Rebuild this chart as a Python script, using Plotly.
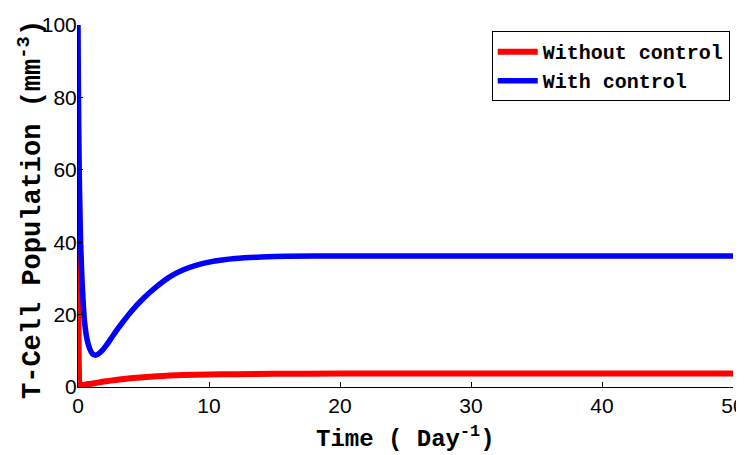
import plotly.graph_objects as go

t_blue = [0, 0.02, 0.05, 0.1, 0.15, 0.2, 0.3, 0.4, 0.5, 0.7, 0.9, 1.1, 1.3, 1.5, 1.8, 2.2, 2.6, 3, 3.5, 4, 5, 6, 7, 8, 9, 10, 11, 12, 14, 16, 20, 30, 40, 50]
blue = [100, 88, 74, 58, 48, 40, 30, 23, 18, 13, 10.5, 9.2, 8.8, 9.0, 9.9, 11.7, 13.8, 15.9, 18.3, 20.6, 24.5, 27.7, 30.4, 32.3, 33.6, 34.5, 35.1, 35.5, 35.9, 36.1, 36.2, 36.2, 36.2, 36.2]

t_red = [0, 0.02, 0.05, 0.08, 0.12, 0.3, 0.6, 1, 1.5, 2, 3, 4, 5, 6, 7, 8, 10, 12, 15, 20, 30, 40, 50]
red = [60, 30, 10, 3, 0.6, 0.5, 0.7, 0.9, 1.2, 1.5, 2.0, 2.4, 2.7, 2.95, 3.15, 3.3, 3.45, 3.55, 3.65, 3.7, 3.7, 3.7, 3.7]

x_ticks = [0, 10, 20, 30, 40, 50]
y_ticks = [0, 20, 40, 60, 80, 100]

x_title = "Time ( Day<sup>-1</sup>)"
y_title = "T-Cell Population (mm<sup>-3</sup>)"

fig = go.Figure()
fig.add_trace(go.Scatter(x=t_red, y=red, mode="lines", name="Without control",
                         line=dict(color="#ff0000", width=6, shape="spline", smoothing=0.6)))
fig.add_trace(go.Scatter(x=t_blue, y=blue, mode="lines", name="With control",
                         line=dict(color="#0000ff", width=5.5, shape="spline", smoothing=0.6)))

tick_font = dict(family="Liberation Sans", size=21, color="black")

fig.update_layout(
    width=744, height=447,
    margin=dict(l=70, r=19, t=17, b=68, autoexpand=False),
    plot_bgcolor="white", paper_bgcolor="white",
    showlegend=True,
    legend=dict(x=0.995, y=0.983, xanchor="right", yanchor="top",
                bordercolor="black", borderwidth=1, bgcolor="white",
                font=dict(family="Liberation Mono", size=20, color="black", weight="bold"),
                tracegroupgap=0, itemwidth=40),
    xaxis=dict(range=[0, 50], tickvals=x_ticks, ticks="inside", ticklen=5,
               tickcolor="black", showline=True, linecolor="black", linewidth=1,
               showgrid=False, zeroline=False, mirror=False, automargin=False,
               tickfont=tick_font, ticklabeloverflow="allow"),
    yaxis=dict(range=[0, 100], tickvals=y_ticks, ticks="inside", ticklen=5,
               tickcolor="black", showline=True, linecolor="black", linewidth=1,
               showgrid=False, zeroline=False, mirror=False, automargin=False,
               tickfont=tick_font, ticklabelstandoff=-4, ticklabeloverflow="allow"),
    annotations=[
        dict(text=x_title, xref="paper", yref="paper", x=0.5, y=0,
             xanchor="center", yanchor="middle", yshift=-50, showarrow=False,
             font=dict(family="Liberation Mono", size=24, color="black", weight="bold")),
        dict(text=y_title, xref="paper", yref="paper", x=0, y=0.5,
             xanchor="center", yanchor="middle", xshift=-48, yshift=-4,
             textangle=-90, showarrow=False,
             font=dict(family="Liberation Mono", size=27, color="black", weight="bold")),
    ],
)

fig.write_html("out.html")
